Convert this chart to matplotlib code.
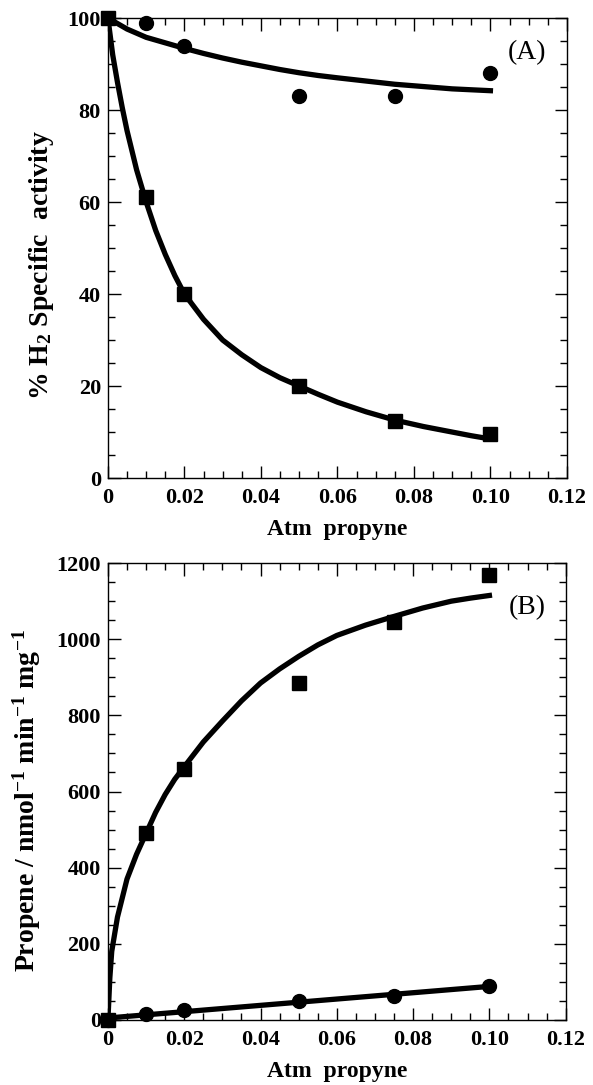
import matplotlib
matplotlib.use("Agg")
import matplotlib.pyplot as plt
from matplotlib.ticker import MultipleLocator

plt.rcParams["font.family"] = ["Liberation Serif", "DejaVu Serif"]
plt.rcParams["mathtext.fontset"] = "custom"
plt.rcParams["mathtext.rm"] = "Liberation Serif:bold"
plt.rcParams["mathtext.it"] = "Liberation Serif:bold"
plt.rcParams["mathtext.bf"] = "Liberation Serif:bold"

# ---- Panel A: % H2 specific activity ----
a_x = [0, 0.01, 0.02, 0.05, 0.075, 0.1]
a_sq = [100, 61, 40, 20, 12.5, 9.5]
a_ci = [100, 99, 94, 83, 83, 88]
a_fit_x = [0, 0.00125, 0.0025, 0.00375, 0.005, 0.0075, 0.01, 0.0125, 0.015,
           0.0175, 0.02, 0.025, 0.03, 0.035, 0.04, 0.045, 0.05, 0.055, 0.06,
           0.0675, 0.075, 0.0825, 0.09, 0.095, 0.1]
a_fit_sq = [100, 92, 86, 80.5, 75.5, 67, 60, 53.8, 48.6, 44, 40, 34.5, 30,
            26.8, 24, 21.8, 20, 18.2, 16.5, 14.4, 12.6, 11.2, 10, 9.2, 8.5]
a_fit_ci = [100, 99.4, 98.8, 98.2, 97.6, 96.7, 95.8, 95.2, 94.6, 94.0, 93.4,
            92.3, 91.3, 90.4, 89.6, 88.8, 88.1, 87.5, 87.0, 86.3, 85.6,
            85.1, 84.6, 84.4, 84.2]

# ---- Panel B: propene formation ----
b_x = [0, 0.01, 0.02, 0.05, 0.075, 0.1]
b_sq = [0, 490, 660, 885, 1045, 1170]
b_ci = [0, 15, 25, 50, 62, 90]
b_fit_x = [0, 0.0005, 0.001, 0.0025, 0.005, 0.0075, 0.01, 0.0125, 0.015,
           0.0175, 0.02, 0.025, 0.03, 0.035, 0.04, 0.045, 0.05, 0.055, 0.06,
           0.0675, 0.075, 0.0825, 0.09, 0.095, 0.1]
b_fit_sq = [0, 110, 180, 270, 370, 435, 490, 545, 592, 632, 665, 730, 785,
            838, 885, 922, 955, 985, 1010, 1037, 1060, 1082, 1100, 1108,
            1115]
b_fit_ci_x = [0, 0.1]
b_fit_ci = [5, 88]

fig = plt.figure(figsize=(5.93, 10.85), dpi=100)
axA = fig.add_axes([0.182, 0.5594, 0.774, 0.424])
axB = fig.add_axes([0.182, 0.060, 0.772, 0.421])

lw = 3.8


def style(ax, ymax, ymaj, ymin):
    ax.set_xlim(0, 0.12)
    ax.set_ylim(0, ymax)
    ax.xaxis.set_major_locator(MultipleLocator(0.02))
    ax.xaxis.set_minor_locator(MultipleLocator(0.005))
    ax.yaxis.set_major_locator(MultipleLocator(ymaj))
    ax.yaxis.set_minor_locator(MultipleLocator(ymin))
    ax.tick_params(which="both", direction="in", top=True, right=True,
                   width=1.0, labelsize=16)
    ax.tick_params(which="major", length=9)
    ax.tick_params(which="minor", length=5)
    ax.tick_params(axis="x", pad=7)
    ax.tick_params(axis="y", pad=5)
    ax.set_xticks([0, 0.02, 0.04, 0.06, 0.08, 0.10, 0.12])
    ax.set_xticklabels(["0", "0.02", "0.04", "0.06", "0.08", "0.10", "0.12"],
                       fontweight="bold")
    for lab in ax.get_yticklabels():
        lab.set_fontweight("bold")
    for s in ax.spines.values():
        s.set_linewidth(1.0)
    ax.set_xlabel("Atm  propyne", fontsize=17, fontweight="bold", labelpad=8)


axA.plot(a_fit_x, a_fit_sq, "-", color="black", lw=lw, zorder=2)
axA.plot(a_fit_x, a_fit_ci, "-", color="black", lw=lw, zorder=2)
axA.plot(a_x, a_sq, "s", color="black", ms=10.5, clip_on=False, zorder=3)
axA.plot(a_x[1:], a_ci[1:], "o", color="black", ms=10, clip_on=False, zorder=3)
style(axA, 100, 20, 5)
axA.set_ylabel("% H$_2$ Specific  activity", fontsize=20, fontweight="bold")
axA.yaxis.set_label_coords(-0.113, 0.463)
axA.text(0.956, 0.952, "(A)", transform=axA.transAxes, ha="right", va="top",
         fontsize=20)

axB.plot(b_fit_x, b_fit_sq, "-", color="black", lw=lw, zorder=2)
axB.plot(b_fit_ci_x, b_fit_ci, "-", color="black", lw=lw, zorder=2)
axB.plot(b_x, b_sq, "s", color="black", ms=10.5, clip_on=False, zorder=3)
axB.plot(b_x, b_ci, "o", color="black", ms=10, clip_on=False, zorder=3)
style(axB, 1200, 200, 50)
axB.set_ylabel("Propene / nmol$^{-1}$ min$^{-1}$ mg$^{-1}$", fontsize=20,
               fontweight="bold")
axB.yaxis.set_label_coords(-0.142, 0.481)
axB.text(0.956, 0.93, "(B)", transform=axB.transAxes, ha="right", va="top",
         fontsize=20)

fig.savefig("out.png", dpi=100)
